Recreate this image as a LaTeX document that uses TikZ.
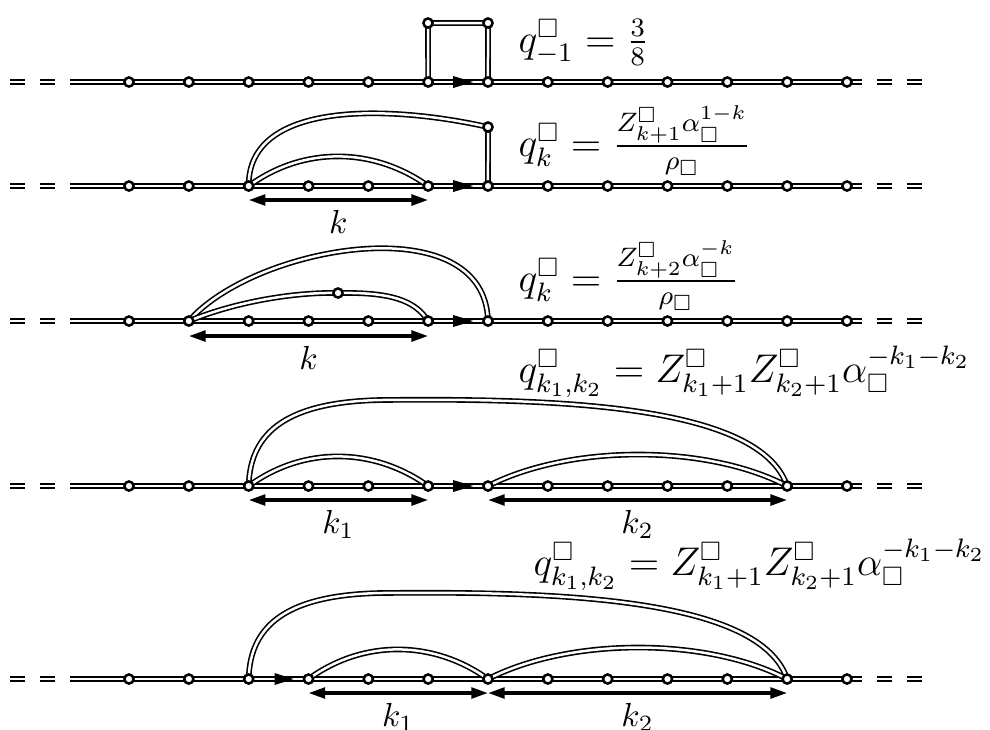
\documentclass[tikz,border=0pt]{standalone}
\usepackage{amssymb}
\usetikzlibrary{arrows.meta,calc}
\pgfdeclarelayer{edges}
\pgfsetlayers{edges,main}
\begin{document}
\begin{tikzpicture}[x=0.3pt,y=-0.3pt,
  vtx/.style={circle,draw,fill=white,line width=0.75pt,inner sep=0pt,minimum size=2.75pt},
  dbl/.style={draw=black,line width=0.48pt,double=white,double distance=0.75pt},
  dashdbl/.style={dbl,dash pattern=on 4.5pt off 4.5pt},
  spanarrow/.style={line width=1pt,{Triangle[length=5pt,width=3.2pt]}-{Triangle[length=5pt,width=3.2pt]}},
  lab/.style={midway,below=2.6pt,inner sep=0pt},
  eqn/.style={anchor=base west,inner sep=0pt,font=\large}
]
\useasboundingbox (0,0) rectangle (990,729);

% rows of sites and the double lines
\foreach \r/\y in {1/82,2/186,3/321,4/486,5/679} {
  \foreach \i in {0,...,12} \node[vtx] (n\r-\i) at ({129+59.83*\i},\y) {};
  \coordinate (L\r) at (70,\y);
  \coordinate (R\r) at (862,\y);
  \begin{pgfonlayer}{edges}
    \draw[dbl] (L\r) -- (R\r);
    \draw[dashdbl] (10,\y) -- (85,\y);
    \draw[dashdbl] (877,\y) -- (922,\y);
  \end{pgfonlayer}
}

% extra sites
\node[vtx] (t1) at (428,23) {};
\node[vtx] (t2) at (488,23) {};
\node[vtx] (e2) at (488,127) {};
\node[vtx] (e3) at (338,293) {};

\begin{pgfonlayer}{edges}
  % row 1
  \draw[dbl] (n1-5.center) -- (t1.center) -- (t2.center) -- (n1-6.center);
  % row 2
  \draw[dbl] (n2-6.center) -- (e2.center);
  \draw[dbl] (n2-2.center) .. controls (248,100) and (390,105) .. (e2.center);
  \draw[dbl] (n2-2.center) .. controls (305,145) and (375,148) .. (n2-5.center);
  % row 3
  \draw[dbl] (n3-1.center) .. controls (255,245) and (485,205) .. (n3-6.center);
  \draw[dbl] (n3-1.center) .. controls (240,300) and (300,292) .. (e3.center)
                           .. controls (390,292) and (415,300) .. (n3-5.center);
  % row 4
  \draw[dbl] (n4-2.center) .. controls (250,430) and (290,402) .. (380,400)
                           .. controls (560,398) and (760,405) .. (n4-11.center);
  \draw[dbl] (n4-2.center) .. controls (305,445) and (375,448) .. (n4-5.center);
  \draw[dbl] (n4-6.center) .. controls (570,444) and (707,444) .. (n4-11.center);
  % row 5
  \draw[dbl] (n5-2.center) .. controls (250,623) and (290,595) .. (380,593)
                           .. controls (560,591) and (760,598) .. (n5-11.center);
  \draw[dbl] (n5-3.center) .. controls (365,638) and (435,641) .. (n5-6.center);
  \draw[dbl] (n5-6.center) .. controls (570,637) and (707,637) .. (n5-11.center);
\end{pgfonlayer}

% flow arrows on the lines
\foreach \r in {1,2,3,4} {
  \fill ($(n\r-5.center)!0.75!(n\r-6.center)$) -- ++(-20,-6) -- ++(0,12) -- cycle;
}
\fill ($(n5-2.center)!0.75!(n5-3.center)$) -- ++(-19,-6) -- ++(0,12) -- cycle;

% span arrows and their labels
\draw[spanarrow] ($(n2-2.center)+(0,14)$) -- ($(n2-5.center)+(0,14)$) node[lab] (k2) {$k$};
\draw[spanarrow] ($(n3-1.center)+(0,15)$) -- ($(n3-5.center)+(0,15)$) node[lab] (k3) {$k$};
\draw[spanarrow] ($(n4-2.center)+(0,14)$) -- ($(n4-5.center)+(0,14)$) node[lab] (k41) {$k_1$};
\draw[spanarrow] ($(n4-6.center)+(0,14)$) -- ($(n4-11.center)+(0,14)$) node[lab] (k42) {$k_2$};
\draw[spanarrow] ($(n5-3.center)+(0,14)$) -- ($(n5-6.center)+(0,14)$) node[lab] (k51) {$k_1$};
\draw[spanarrow] ($(n5-6.center)+(0,14)$) -- ($(n5-11.center)+(0,14)$) node[lab] (k52) {$k_2$};

% formulas
\node[eqn] (q1) at (518,52) {$q^{\square}_{-1} = \frac{3}{8}$};
\node[eqn] (q2) at (518,156) {$q^{\square}_{k} = \frac{Z^{\square}_{k+1}\alpha_{\square}^{1-k}}{\rho_{\square}}$};
\node[eqn] (q3) at (518,291) {$q^{\square}_{k} = \frac{Z^{\square}_{k+2}\alpha_{\square}^{-k}}{\rho_{\square}}$};
\node[eqn] (q4) at (518,382) {$q^{\square}_{k_1,k_2} = Z^{\square}_{k_1+1}Z^{\square}_{k_2+1}\alpha_{\square}^{-k_1-k_2}$};
\node[eqn] (q5) at (533,575) {$q^{\square}_{k_1,k_2} = Z^{\square}_{k_1+1}Z^{\square}_{k_2+1}\alpha_{\square}^{-k_1-k_2}$};
\end{tikzpicture}
\end{document}
